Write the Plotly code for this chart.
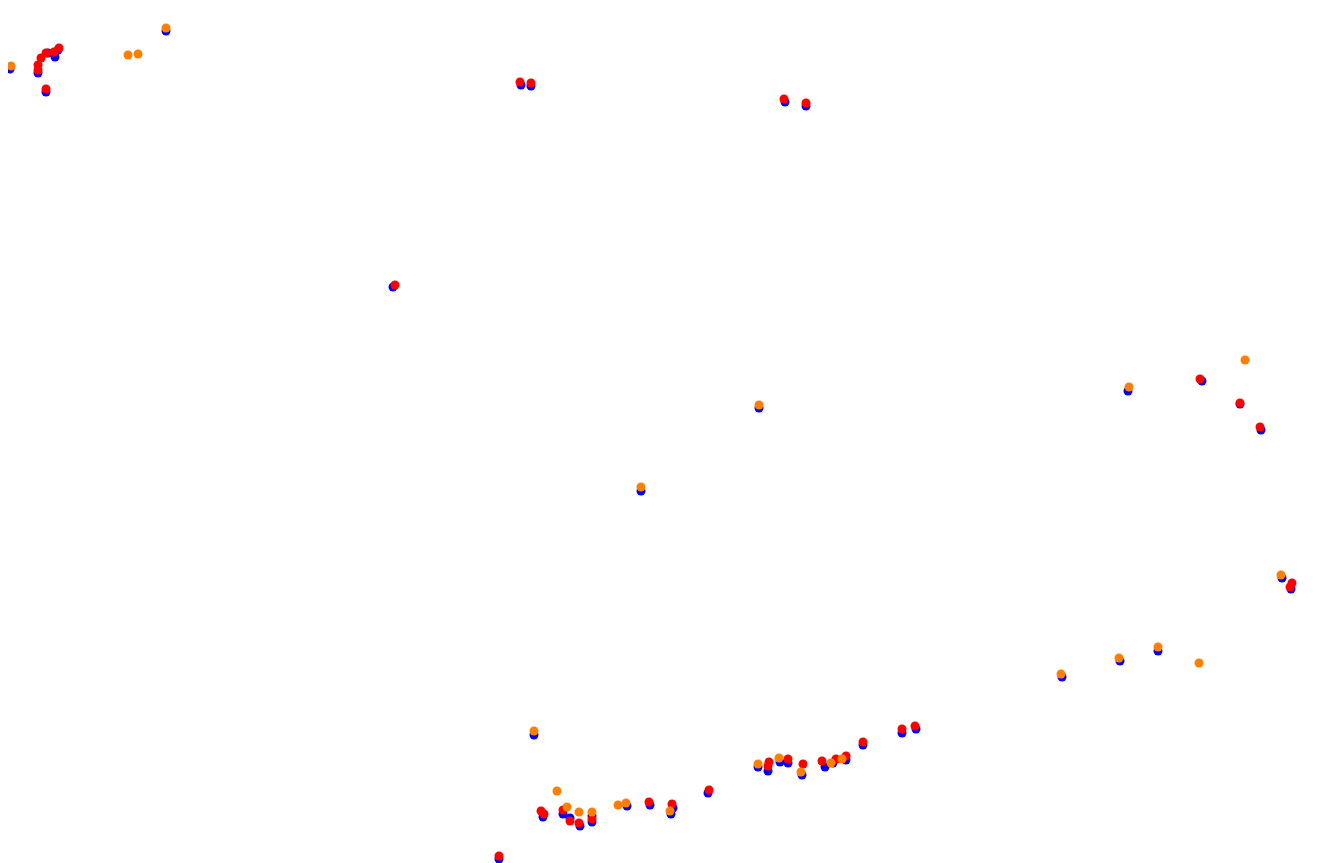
import plotly.graph_objects as go

# Track positions (read in screen-like units, y grows downward)
blue_x = [10, 38, 46, 55, 48, 58, 166,
          521, 531, 785, 806,
          393,
          641, 759, 1128, 1202, 1240, 1261,
          1282, 1291, 1062, 1120, 1158,
          534, 543, 563, 570, 592, 580, 592, 627, 650, 671, 673, 708, 499,
          758, 768, 780, 788, 802, 825, 833, 846, 863, 902, 916]
blue_y = [69, 73, 92, 57, 53, 50, 31,
          85, 86, 102, 106,
          287,
          491, 408, 391, 381, 404, 430,
          578, 589, 677, 661, 651,
          735, 817, 814, 818, 816, 826, 822, 806, 805, 814, 808, 793, 859,
          767, 771, 762, 763, 775, 767, 763, 760, 745, 733, 729]

red_x = [59, 54, 46, 41, 38, 38, 46,
         520, 531, 784, 806,
         395,
         1200, 1240, 1260,
         1292, 1290,
         541, 544, 563, 570, 579, 592, 649, 672, 709, 499,
         769, 768, 788, 803, 822, 836, 846, 863, 902, 915]
red_y = [48, 52, 53, 58, 65, 70, 89,
         82, 83, 99, 103,
         285,
         379, 403, 427,
         583, 587,
         811, 814, 810, 821, 823, 819, 802, 804, 790, 856,
         762, 766, 759, 764, 761, 759, 756, 742, 729, 726]

orange_x = [11, 128, 138, 166,
            641, 759, 1129, 1245,
            1281, 1061, 1119, 1158, 1199,
            534, 557, 567, 579, 592, 618, 626, 670,
            758, 779, 801, 831, 842]
orange_y = [66, 55, 54, 28,
            487, 405, 387, 360,
            575, 674, 658, 647, 663,
            731, 791, 807, 812, 812, 805, 803, 811,
            764, 758, 772, 763, 759]

fig = go.Figure()
for xs, ys, col in [(blue_x, blue_y, "#0000ff"),
                    (red_x, red_y, "#ff0000"),
                    (orange_x, orange_y, "#ff8000")]:
    fig.add_trace(go.Scatter(x=xs, y=ys, mode="markers",
                             marker=dict(color=col, size=9, line=dict(width=0)),
                             showlegend=False, hoverinfo="skip"))

fig.update_layout(
    template="none",
    width=1337, height=863,
    margin=dict(l=0, r=0, t=0, b=0),
    paper_bgcolor="white", plot_bgcolor="white",
    xaxis=dict(range=[8, 1345], visible=False),
    yaxis=dict(range=[871, 8], visible=False),
)
fig.write_html("out.html")
